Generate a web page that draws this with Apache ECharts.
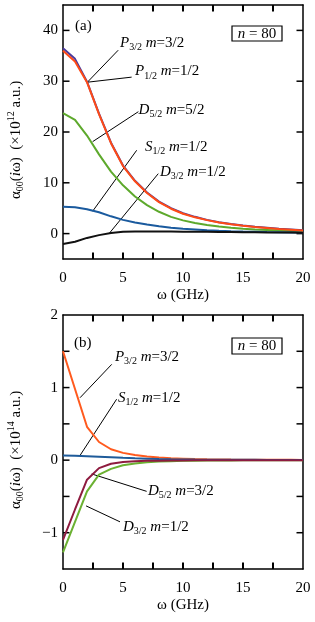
<!DOCTYPE html>
<html><head><meta charset="utf-8">
<script src="https://cdn.jsdelivr.net/npm/echarts@6/dist/echarts.min.js"></script>
<style>html,body{margin:0;padding:0;background:#fff}#c{width:315px;height:622px}</style>
</head><body><div id="c"></div><script>
// ---------- data ----------
const omega = [0,1,2,3,4,5,6,7,8,9,10,11,12,13,14,15,16,17,18,19,20];
// panel (a): alpha_00(i omega) in 1e12 a.u.
const a_P32_m32 = [36.5,34.4,29.9,23.6,17.9,13.4,10.4,8.1,6.3,5.0,4.0,3.3,2.7,2.25,1.9,1.6,1.35,1.15,0.95,0.8,0.65];
const a_P12_m12 = [36.0,33.9,29.8,23.5,17.8,13.3,10.3,8.0,6.2,4.9,3.9,3.2,2.65,2.2,1.85,1.55,1.3,1.1,0.9,0.75,0.6];
const a_D52_m52 = [23.7,22.4,19.3,15.6,12.2,9.5,7.3,5.6,4.3,3.3,2.6,2.1,1.7,1.4,1.15,0.95,0.8,0.7,0.6,0.5,0.45];
const a_S12_m12 = [5.3,5.2,4.8,4.2,3.4,2.7,2.2,1.8,1.45,1.15,0.95,0.8,0.65,0.55,0.47,0.4,0.35,0.3,0.27,0.24,0.22];
const a_D32_m12 = [-2.05,-1.6,-0.85,-0.3,0.1,0.35,0.4,0.42,0.42,0.4,0.38,0.36,0.34,0.32,0.3,0.28,0.26,0.24,0.22,0.2,0.18];
// panel (b): alpha_00(i omega) in 1e14 a.u.
const b_P32_m32 = [1.5,0.98,0.46,0.25,0.15,0.1,0.07,0.05,0.035,0.025,0.02,0.015,0.012,0.01,0.008,0.007,0.006,0.005,0.004,0.004,0.003];
const b_S12_m12 = [0.065,0.06,0.055,0.048,0.04,0.032,0.025,0.02,0.015,0.012,0.01,0.008,0.007,0.006,0.005,0.004,0.004,0.003,0.003,0.002,0.002];
const b_D52_m32 = [-1.1,-0.68,-0.27,-0.11,-0.05,-0.025,-0.015,-0.01,-0.007,-0.005,-0.004,-0.003,-0.002,-0.002,-0.002,-0.001,-0.001,-0.001,-0.001,-0.001,-0.001];
const b_D32_m12 = [-1.27,-0.85,-0.43,-0.2,-0.12,-0.07,-0.045,-0.03,-0.02,-0.015,-0.01,-0.008,-0.006,-0.005,-0.004,-0.003,-0.003,-0.002,-0.002,-0.001,-0.001];
// tick labels and tick marks
const xTickLabels = [0,5,10,15,20];
const aTickLabels = [0,10,20,30,40];
const bTickLabels = [-1,0,1,2];
const xTickMarks = [2.5,5,7.5,10,12.5,15,17.5];
const aTickMarks = [0,10,20,30,40];
const bTickMarks = [-1,-0.5,0,0.5,1,1.5];

// ---------- styling ----------
const FONT = 'Liberation Serif';
const rich = {
  r: {fontFamily: FONT, fontSize: 15, color: '#000', fill: '#000'},
  i: {fontFamily: FONT, fontSize: 15, fontStyle: 'italic', color: '#000', fill: '#000'},
  s: {fontFamily: FONT, fontSize: 10, color: '#000', fill: '#000', verticalAlign: 'bottom', padding: [9, 0, 0, 0]},
  p: {fontFamily: FONT, fontSize: 10, color: '#000', fill: '#000', verticalAlign: 'top', padding: [0, 0, 9, 0]}
};

const pair = (ys) => omega.map((x, k) => [x, ys[k]]);
const mkLine = (name, ys, color, xi, yi, z) => ({
  name, type: 'line', data: pair(ys), xAxisIndex: xi, yAxisIndex: yi,
  showSymbol: false, symbol: 'none', silent: true, z: z || 2,
  lineStyle: {color, width: 2}
});

const axLine = () => ({show: true, onZero: false, lineStyle: {color: '#000', width: 1.5}});
function xAxes(grid) {
  const fmt = v => (xTickLabels.indexOf(v) >= 0 ? String(v) : '');
  return [
    {type: 'value', gridIndex: grid, min: 0, max: 20, interval: 2.5, position: 'bottom',
     axisLine: axLine(), axisTick: {show: false},
     axisLabel: {show: true, formatter: fmt, margin: 12, fontFamily: FONT, fontSize: 15, color: '#000'},
     splitLine: {show: false},
     name: 'ω (GHz)', nameLocation: 'middle', nameGap: 29,
     nameTextStyle: {fontFamily: FONT, fontSize: 15, color: '#000'}},
    {type: 'value', gridIndex: grid, min: 0, max: 20, interval: 2.5, position: 'top',
     axisLine: axLine(), axisTick: {show: false},
     axisLabel: {show: false}, splitLine: {show: false}}
  ];
}
function yAxes(grid, min, max, interval, labels, extra) {
  const fmt = v => {
    for (const l of labels) if (Math.abs(l - v) < 1e-9) return l < 0 ? '\u2212' + (-l) : String(l);
    return '';
  };
  const base = Object.assign({type: 'value', gridIndex: grid, min, max, splitLine: {show: false}}, extra);
  if (interval) base.interval = interval;
  return [
    Object.assign({}, base, {position: 'left', axisLine: axLine(), axisTick: {show: false},
      axisLabel: {show: true, formatter: fmt, margin: 5, fontFamily: FONT, fontSize: 15, color: '#000'}}),
    Object.assign({}, base, {position: 'right', axisLine: axLine(), axisTick: {show: false},
      axisLabel: {show: false}})
  ];
}

const chart = echarts.init(document.getElementById('c'), null, {renderer: 'canvas'});
const option = {
  animation: false,
  backgroundColor: '#fff',
  grid: [
    {left: 63, top: 5, width: 240, height: 254},
    {left: 63, top: 315, width: 240, height: 254}
  ],
  xAxis: [...xAxes(0), ...xAxes(1)],
  yAxis: [
    ...yAxes(0, -5, 45, null, aTickLabels, {splitNumber: 5, minInterval: 10, maxInterval: 10}),
    ...yAxes(1, -1.5, 2, 0.5, bTickLabels, {})
  ],
  series: [
    mkLine('P3/2 m=3/2', a_P32_m32, '#4B3A9C', 0, 0, 2),
    mkLine('P1/2 m=1/2', a_P12_m12, '#FF4A16', 0, 0, 3),
    mkLine('D5/2 m=5/2', a_D52_m52, '#5DA92C', 0, 0, 2),
    mkLine('S1/2 m=1/2', a_S12_m12, '#1A5A9E', 0, 0, 2),
    mkLine('D3/2 m=1/2', a_D32_m12, '#111111', 0, 0, 2),
    mkLine('P3/2 m=3/2 (b)', b_P32_m32, '#FF5A1E', 2, 2, 2),
    mkLine('S1/2 m=1/2 (b)', b_S12_m12, '#1F5B9A', 2, 2, 3),
    mkLine('D3/2 m=1/2 (b)', b_D32_m12, '#6BB132', 2, 2, 2),
    mkLine('D5/2 m=3/2 (b)', b_D52_m32, '#8E1B3F', 2, 2, 3)
  ]
};
chart.setOption(option);

// ---------- annotations (data coordinates) ----------
const annotations = [
  {grid: 0, from: [2.03, 29.8], to: [4.6, 36.1], at: [4.75, 37.6], label: '{i|P}{s|3/2}{i| m}{r|=3/2}'},
  {grid: 0, from: [2.03, 29.8], to: [5.72, 30.8], at: [6.0, 31.9], label: '{i|P}{s|1/2}{i| m}{r|=1/2}'},
  {grid: 0, from: [2.47, 18.1], to: [6.28, 24.0], at: [6.3, 24.4], label: '{i|D}{s|5/2}{i| m}{r|=5/2}'},
  {grid: 0, from: [2.47, 4.4], to: [6.14, 16.4], at: [6.83, 17.0], label: '{i|S}{s|1/2}{i| m}{r|=1/2}'},
  {grid: 0, from: [3.86, 0.06], to: [7.94, 11.8], at: [8.08, 12.1], label: '{i|D}{s|3/2}{i| m}{r|=1/2}'},
  {grid: 1, from: [1.42, 0.86], to: [4.06, 1.32], at: [4.33, 1.42], label: '{i|P}{s|3/2}{i| m}{r|=3/2}'},
  {grid: 1, from: [1.42, 0.065], to: [4.47, 0.84], at: [4.58, 0.86], label: '{i|S}{s|1/2}{i| m}{r|=1/2}'},
  {grid: 1, from: [2.39, -0.19], to: [6.97, -0.43], at: [7.08, -0.43], label: '{i|D}{s|5/2}{i| m}{r|=3/2}'},
  {grid: 1, from: [1.92, -0.63], to: [4.75, -0.85], at: [5.0, -0.92], label: '{i|D}{s|3/2}{i| m}{r|=1/2}'}
];

const g = [];
// inward tick marks on all four sides, placed through the axes' own scales
const TL = 6.5;
[{xi: 0, yi: 0, ymin: -5, ymax: 45, yt: aTickMarks}, {xi: 2, yi: 2, ymin: -1.5, ymax: 2, yt: bTickMarks}].forEach(p => {
  const yBot = chart.convertToPixel({yAxisIndex: p.yi}, p.ymin);
  const yTop = chart.convertToPixel({yAxisIndex: p.yi}, p.ymax);
  const xL = chart.convertToPixel({xAxisIndex: p.xi}, 0);
  const xR = chart.convertToPixel({xAxisIndex: p.xi}, 20);
  xTickMarks.forEach(v => {
    const x = Math.round(chart.convertToPixel({xAxisIndex: p.xi}, v)) - 1;
    g.push({type: 'rect', shape: {x: x, y: yBot - TL, width: 2, height: TL}, style: {fill: '#000'}});
    g.push({type: 'rect', shape: {x: x, y: yTop, width: 2, height: TL}, style: {fill: '#000'}});
  });
  p.yt.forEach(v => {
    const y = chart.convertToPixel({yAxisIndex: p.yi}, v);
    g.push({type: 'rect', shape: {x: xL, y: y - 0.75, width: TL, height: 1.5}, style: {fill: '#000'}});
    g.push({type: 'rect', shape: {x: xR - TL, y: y - 0.75, width: TL, height: 1.5}, style: {fill: '#000'}});
  });
});
annotations.forEach(a => {
  const p1 = chart.convertToPixel({gridIndex: a.grid}, a.from);
  const p2 = chart.convertToPixel({gridIndex: a.grid}, a.to);
  const pt = chart.convertToPixel({gridIndex: a.grid}, a.at);
  g.push({type: 'line', silent: true,
    shape: {x1: p1[0], y1: p1[1], x2: p2[0], y2: p2[1]},
    style: {stroke: '#000', lineWidth: 1}});
  g.push({type: 'text', silent: true, x: pt[0], y: pt[1],
    style: {text: a.label, rich, align: 'left', textAlign: 'left', verticalAlign: 'middle', textVerticalAlign: 'middle'}});
});
// panel letters and n = 80 boxes
const panelLabels = [
  {txt: '(a)', x: 75, y: 26, box: [232, 26, 50, 15]},
  {txt: '(b)', x: 74, y: 343, box: [232, 338, 50, 16]}
];
panelLabels.forEach(p => {
  g.push({type: 'text', silent: true, x: p.x, y: p.y,
    style: {text: '{r|' + p.txt + '}', rich, align: 'left', textAlign: 'left', verticalAlign: 'middle', textVerticalAlign: 'middle'}});
  g.push({type: 'rect', silent: true, shape: {x: p.box[0], y: p.box[1], width: p.box[2], height: p.box[3]},
    style: {fill: '#fff', stroke: '#000', lineWidth: 1.2}});
  g.push({type: 'text', silent: true, x: p.box[0] + p.box[2] / 2, y: p.box[1] + p.box[3] / 2 + 0.5,
    style: {text: '{i|n}{r| = 80}', rich, align: 'center', textAlign: 'center', verticalAlign: 'middle', textVerticalAlign: 'middle'}});
});
// y axis titles
const yTitles = [
  {x: 16, y: 140, text: '{r|α}{s|00}{r|(}{i|i}{r|ω)  (×10}{p|12}{r| a.u.)}'},
  {x: 16, y: 450, text: '{r|α}{s|00}{r|(}{i|i}{r|ω)  (×10}{p|14}{r| a.u.)}'}
];
yTitles.forEach(t => {
  g.push({type: 'text', silent: true, x: t.x, y: t.y, rotation: Math.PI / 2,
    style: {text: t.text, rich, align: 'center', textAlign: 'center', verticalAlign: 'middle', textVerticalAlign: 'middle'}});
});
chart.setOption({graphic: {elements: g}});
</script></body></html>
